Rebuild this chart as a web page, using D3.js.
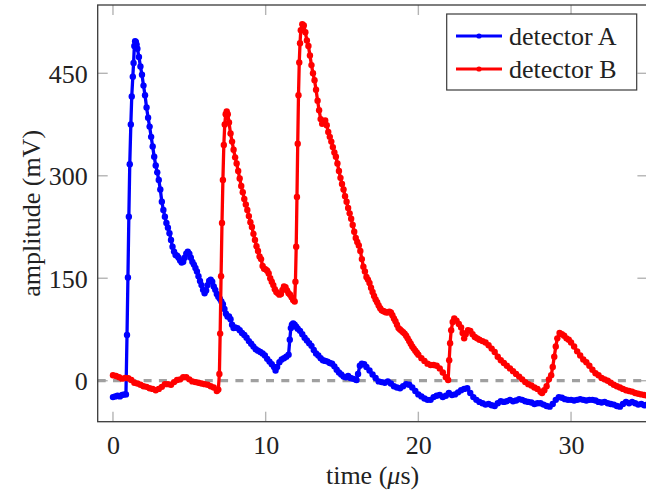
<!DOCTYPE html>
<html>
<head>
<meta charset="utf-8">
<script src="https://cdn.jsdelivr.net/npm/d3@7"></script>
<style>
  html, body { margin: 0; padding: 0; background: #fff; }
  svg { display: block; }
  text { font-family: "Liberation Serif", "Times New Roman", serif; fill: #222; }
</style>
</head>
<body>
<svg id="chart" width="646" height="496"></svg>
<script>
// ---- data ----
const seriesNames = ["detector A", "detector B"];
const seriesColors = ["#0000ff", "#ff0000"];
const xTicks = [0, 10, 20, 30];
const yTicks = [0, 150, 300, 450];
const xLabel = "time (";
const yLabel = "amplitude (mV)";

const timeA = [0.0,0.15,0.3,0.45,0.6,0.75,0.85,0.92,0.98,1.04,1.1,1.17,1.23,1.3,1.35,1.4,1.45,1.5,1.55,1.6,1.7,1.8,1.9,2.0,2.1,2.2,2.3,2.4,2.5,2.6,2.7,2.8,2.9,3.0,3.1,3.2,3.3,3.4,3.5,3.6,3.7,3.8,3.9,4.0,4.1,4.2,4.3,4.4,4.5,4.6,4.7,4.8,4.9,5.0,5.1,5.2,5.3,5.4,5.5,5.6,5.7,5.8,5.9,6.0,6.1,6.2,6.3,6.4,6.5,6.6,6.7,6.8,6.9,7.0,7.1,7.2,7.3,7.4,7.5,7.6,7.7,7.8,7.9,8.0,8.15,8.3,8.45,8.6,8.75,8.9,9.05,9.2,9.35,9.5,9.65,9.8,9.95,10.1,10.25,10.4,10.55,10.65,10.75,10.9,11.05,11.2,11.35,11.5,11.58,11.65,11.72,11.8,11.9,12.0,12.1,12.25,12.4,12.55,12.7,12.85,13.0,13.15,13.3,13.45,13.6,13.75,13.9,14.05,14.2,14.35,14.5,14.65,14.8,14.95,15.1,15.25,15.4,15.55,15.7,15.85,15.95,16.05,16.17,16.3,16.45,16.6,16.8,17.0,17.2,17.4,17.6,17.8,18.0,18.2,18.4,18.6,18.8,19.0,19.2,19.4,19.6,19.8,20.0,20.2,20.4,20.6,20.8,21.0,21.2,21.4,21.6,21.8,22.0,22.2,22.4,22.6,22.8,23.0,23.2,23.4,23.6,23.8,24.0,24.2,24.4,24.6,24.8,25.0,25.2,25.4,25.6,25.8,26.0,26.2,26.4,26.6,26.8,27.0,27.2,27.4,27.6,27.8,28.0,28.2,28.4,28.6,28.8,29.0,29.2,29.4,29.6,29.8,30.0,30.2,30.4,30.6,30.8,31.0,31.2,31.4,31.6,31.8,32.0,32.2,32.4,32.6,32.8,33.0,33.2,33.4,33.6,33.8,34.0,34.2,34.4,34.6,34.8,35.0];
const ampA = [-24,-23,-22,-23,-21,-20,-20,67,151,240,317,375,416,445,465,490,497,496,492,486,474,460,448,432,418,400,385,372,357,343,328,315,305,294,280,262,250,240,231,224,216,206,196,189,184,183,180,176,173,174,180,186,189,186,180,174,170,165,160,153,146,140,133,128,132,140,146,148,145,138,133,127,123,120,116,112,105,98,94,94,90,82,77,78,77,74,70,67,63,58,54,50,46,44,42,40,37,32,28,24,20,15,20,27,31,33,35,38,60,77,82,84,82,79,76,73,68,63,59,55,51,45,40,37,33,30,29,28,26,25,21,16,12,9,6,5,7,4,3,2,1,10,22,25,24,20,15,9,4,-1,-2,-3,-1,-4,-8,-10,-11,-8,-5,-6,-10,-15,-20,-23,-26,-28,-28,-24,-22,-21,-24,-22,-18,-21,-20,-17,-14,-12,-11,-18,-24,-28,-31,-33,-35,-34,-36,-37,-33,-30,-31,-30,-28,-30,-29,-27,-28,-30,-31,-32,-34,-33,-33,-35,-37,-38,-34,-28,-24,-25,-27,-28,-28,-29,-28,-27,-28,-29,-28,-28,-29,-31,-32,-31,-33,-34,-35,-37,-38,-34,-31,-33,-31,-33,-35,-34,-36,-35];

const timeB = [0.0,0.2,0.4,0.6,0.8,1.0,1.2,1.4,1.6,1.8,2.0,2.2,2.4,2.6,2.8,3.0,3.2,3.4,3.6,3.8,4.0,4.2,4.4,4.6,4.8,5.0,5.2,5.4,5.6,5.8,6.0,6.2,6.4,6.6,6.8,6.9,6.97,7.02,7.08,7.14,7.2,7.26,7.32,7.38,7.45,7.52,7.6,7.7,7.8,7.9,8.0,8.1,8.2,8.3,8.4,8.5,8.6,8.7,8.8,8.9,9.0,9.1,9.2,9.3,9.4,9.5,9.6,9.7,9.8,9.9,10.0,10.1,10.2,10.3,10.4,10.5,10.6,10.7,10.8,10.9,11.0,11.1,11.2,11.3,11.4,11.5,11.6,11.7,11.8,11.9,11.95,12.0,12.05,12.1,12.15,12.2,12.25,12.3,12.4,12.5,12.6,12.7,12.8,12.9,13.0,13.1,13.2,13.3,13.4,13.5,13.6,13.7,13.8,13.9,14.0,14.1,14.2,14.3,14.4,14.5,14.6,14.7,14.8,14.9,15.0,15.1,15.2,15.3,15.4,15.5,15.6,15.7,15.8,15.9,16.0,16.1,16.2,16.3,16.4,16.5,16.6,16.7,16.8,16.9,17.0,17.1,17.2,17.3,17.4,17.5,17.6,17.7,17.8,17.9,18.0,18.1,18.2,18.3,18.4,18.5,18.6,18.7,18.8,18.9,19.0,19.1,19.2,19.3,19.4,19.5,19.6,19.7,19.8,19.9,20.0,20.2,20.4,20.6,20.8,21.0,21.2,21.4,21.6,21.8,21.95,22.02,22.08,22.15,22.25,22.35,22.5,22.65,22.8,22.9,23.0,23.1,23.25,23.4,23.55,23.7,23.85,24.0,24.2,24.4,24.6,24.8,25.0,25.2,25.4,25.6,25.8,26.0,26.2,26.4,26.6,26.8,27.0,27.2,27.4,27.6,27.8,28.0,28.1,28.25,28.4,28.55,28.7,28.8,28.9,29.0,29.1,29.25,29.4,29.55,29.7,29.85,30.0,30.2,30.4,30.6,30.8,31.0,31.2,31.4,31.6,31.8,32.0,32.2,32.4,32.6,32.8,33.0,33.2,33.4,33.6,33.8,34.0,34.2,34.4,34.6,34.8,35.0];
const ampB = [8,7,5,3,4,3.5,1,-3,-4,-6,-8,-9,-11,-12,-14,-12,-9,-5,-5,-6,-2,1,2,5,5,2,-1,-2,-3,-4,-5,-6,-8,-10,-15,-13,10,69,153,231,294,345,375,390,394,390,378,362,350,338,327,318,307,296,285,276,266,258,250,241,232,225,215,206,197,190,182,178,168,164,163,161,157,150,145,140,134,130,128,126,127,133,138,137,132,128,126,122,118,116,145,196,269,347,418,466,494,513,522,520,510,498,490,476,462,450,440,426,410,396,383,376,378,381,374,364,357,350,342,334,328,318,307,297,288,280,270,262,253,245,237,228,218,209,203,198,190,178,167,160,152,148,143,136,130,124,119,115,110,106,103,102,101,100,100,101,100,96,91,87,82,77,75,73,71,69,66,62,58,54,50,47,44,41,38,33,29,25,23,23,22,18,12,5,1,30,55,74,86,91,88,83,78,70,62,68,74,73,68,64,62,60,58,56,52,47,42,35,30,26,22,18,14,10,6,2,-2,-5,-7,-10,-12,-16,-18,-14,-8,2,8,20,35,50,62,70,68,66,62,60,56,50,43,37,31,27,22,16,11,8,4,2,0,-3,-6,-8,-10,-12,-14,-15,-16,-18,-19,-20,-21,-22];

// ---- drawing ----
const svg = d3.select("#chart");
const x = d3.scaleLinear().domain([-1, 35]).range([97.7, 647.4]);
const y = d3.scaleLinear().domain([-60, 550]).range([421.7, 5.0]);
const [x0, x1] = x.range();
const [y0, y1] = y.range();

svg.append("defs").append("clipPath").attr("id", "clip")
  .append("rect").attr("x", x0).attr("y", y1).attr("width", x1 - x0).attr("height", y0 - y1);

const tickLen = 10;
const tickColor = "#b4b4b4";
// bottom axis (tick labels)
const xAxis = d3.axisBottom(x).tickValues(xTicks).tickSize(0).tickPadding(14).tickFormat(d3.format("d"));
const gx = svg.append("g").attr("transform", `translate(0,${y0})`).call(xAxis);
gx.select(".domain").remove();
gx.selectAll("text").style("font-size", "26px").attr("font-family", "Liberation Serif").attr("fill", "#222");
// left axis
const yAxis = d3.axisLeft(y).tickValues(yTicks).tickSize(0).tickPadding(10).tickFormat(d3.format("d"));
const gy = svg.append("g").attr("transform", `translate(${x0},0)`).call(yAxis);
gy.select(".domain").remove();
gy.selectAll("text").style("font-size", "26px").attr("font-family", "Liberation Serif").attr("fill", "#222").attr("dy", "0.34em");

// inward tick marks on all four sides
const ticks = svg.append("g").attr("stroke", tickColor).attr("stroke-width", 1.4);
xTicks.forEach(t => {
  ticks.append("line").attr("x1", x(t)).attr("x2", x(t)).attr("y1", y0).attr("y2", y0 - tickLen);
  ticks.append("line").attr("x1", x(t)).attr("x2", x(t)).attr("y1", y1).attr("y2", y1 + tickLen);
});
yTicks.forEach(v => {
  ticks.append("line").attr("x1", x0).attr("x2", x0 + tickLen).attr("y1", y(v)).attr("y2", y(v));
  ticks.append("line").attr("x1", x1).attr("x2", x1 - tickLen).attr("y1", y(v)).attr("y2", y(v));
});

const plot = svg.append("g").attr("clip-path", "url(#clip)");
// zero reference line
plot.append("line").attr("x1", x0).attr("x2", x1).attr("y1", y(0)).attr("y2", y(0))
  .attr("stroke", "#a0a0a0").attr("stroke-width", 3.2).attr("stroke-dasharray", "8,7.3");

const line = d3.line().x(d => x(d[0])).y(d => y(d[1]));
const data = [d3.zip(timeA, ampA), d3.zip(timeB, ampB)];
data.forEach((pts, i) => {
  const g = plot.append("g");
  g.append("path").datum(pts).attr("d", line).attr("fill", "none")
    .attr("stroke", seriesColors[i]).attr("stroke-width", 3.3).attr("stroke-linejoin", "round");
  g.selectAll("circle").data(pts).join("circle")
    .attr("cx", d => x(d[0])).attr("cy", d => y(d[1])).attr("r", 3.2)
    .attr("fill", seriesColors[i]);
});

// frame
svg.append("rect").attr("x", x0).attr("y", y1).attr("width", x1 - x0).attr("height", y0 - y1)
  .attr("fill", "none").attr("stroke", "#3a3a3a").attr("stroke-width", 1.3);

// axis labels
const xl = svg.append("text").attr("x", (x0 + x1) / 2).attr("y", 484).attr("text-anchor", "middle")
  .style("font-size", "26px");
xl.append("tspan").text(xLabel);
xl.append("tspan").attr("font-style", "italic").text("\u03bc");
xl.append("tspan").text("s)");
svg.append("text").attr("transform", `translate(40,${(y0 + y1) / 2}) rotate(-90)`)
  .attr("text-anchor", "middle").style("font-size", "26px").text(yLabel);

// legend
const lg = svg.append("g");
lg.append("rect").attr("x", 446.7).attr("y", 14).attr("width", 190).attr("height", 76)
  .attr("fill", "#fff").attr("stroke", "#3a3a3a").attr("stroke-width", 1.2);
seriesNames.forEach((name, i) => {
  const yy = 36 + i * 33;
  lg.append("line").attr("x1", 456).attr("x2", 502).attr("y1", yy).attr("y2", yy)
    .attr("stroke", seriesColors[i]).attr("stroke-width", 3);
  lg.append("circle").attr("cx", 479).attr("cy", yy).attr("r", 2.6).attr("fill", seriesColors[i]);
  lg.append("text").attr("x", 509).attr("y", yy + 9).style("font-size", "26px").text(name);
});
</script>
</body>
</html>
